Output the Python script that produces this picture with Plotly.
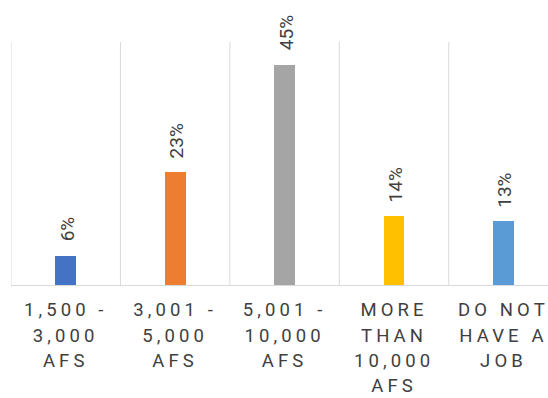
import plotly.graph_objects as go

# Monthly income groups and share of respondents (%)
categories = ["1,500 - 3,000 AFS", "3,001 - 5,000 AFS", "5,001 - 10,000 AFS",
              "MORE THAN 10,000 AFS", "DO NOT HAVE A JOB"]
tick_lines = [["1,500 -", "3,000", "AFS"],
              ["3,001 -", "5,000", "AFS"],
              ["5,001 -", "10,000", "AFS"],
              ["MORE", "THAN", "10,000", "AFS"],
              ["DO NOT", "HAVE A", "JOB"]]
values = [6, 23, 45, 14, 13]
colors = ["#4472C4", "#ED7D31", "#A5A5A5", "#FFC000", "#5B9BD5"]

FONT = "Roboto"
TEXT_COLOR = "#404040"


def spaced(lines):
    return "<br>".join(
        '<span style="font-size:18.5px;letter-spacing:4.1px">%s</span>' % ln
        for ln in lines)


x_idx = list(range(len(categories)))

fig = go.Figure()
fig.add_trace(go.Bar(
    x=x_idx, y=values, marker=dict(color=colors, line=dict(width=0)),
    width=0.19, hoverinfo="skip", showlegend=False,
))

for i, v in zip(x_idx, values):
    fig.add_annotation(
        x=i, y=v, text=f"{v}%", textangle=-90, showarrow=False,
        xanchor="center", yanchor="bottom", yshift=12, xshift=1.5,
        font=dict(family=FONT, size=19, color=TEXT_COLOR),
    )

fig.update_layout(
    width=548, height=398,
    margin=dict(l=10.7, r=0, t=42, b=113.3, autoexpand=False),
    paper_bgcolor="white", plot_bgcolor="white",
    font=dict(family=FONT, color=TEXT_COLOR),
    bargap=0,
)
fig.update_xaxes(
    type="linear", range=[-0.5, 4.407], automargin=False,
    tickmode="array", tickvals=x_idx, ticktext=[spaced(t) for t in tick_lines],
    tickfont=dict(family=FONT, size=19.5, color=TEXT_COLOR),
    showgrid=False, zeroline=False,
    showline=True, linecolor="#D9D9D9", linewidth=1,
    ticks="", ticklabelstandoff=7, ticklabeloverflow="allow",
)
fig.update_yaxes(range=[0, 49.6], automargin=False, showgrid=False,
                 zeroline=False, showticklabels=False, ticks="",
                 showline=False)

# Category separators
for b in [-0.5, 0.5, 1.5, 2.5, 3.5]:
    fig.add_shape(type="line", xref="x", yref="y", x0=b, x1=b, y0=0, y1=49.6,
                  line=dict(color="#D9D9D9", width=1), layer="below")

fig.write_html("out.html")
